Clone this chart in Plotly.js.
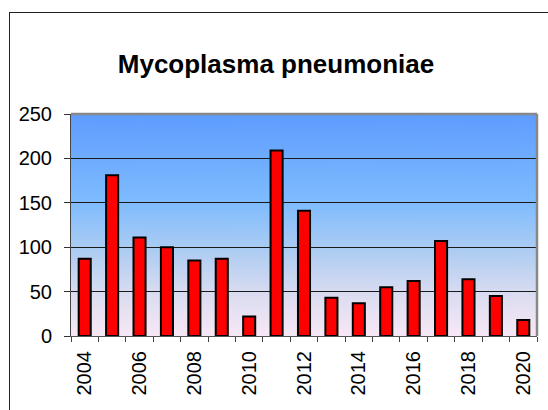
<!DOCTYPE html>
<html>
<head>
<meta charset="utf-8">
<script src="https://cdn.plot.ly/plotly-3.0.1.min.js"></script>
<style>
  html, body { margin: 0; padding: 0; background: #fff; }
  #chart { width: 548px; height: 410px; position: absolute; left: 0; top: 0; }
  #frame { position: absolute; left: 9px; top: 12px; width: 600px; height: 500px;
           border-left: 1px solid #222; border-top: 1px solid #222; pointer-events: none; }
</style>
</head>
<body>
<div id="chart"></div>
<div id="frame"></div>
<script>
const years = [2004, 2005, 2006, 2007, 2008, 2009, 2010, 2011, 2012, 2013, 2014, 2015, 2016, 2017, 2018, 2019, 2020];
const cases = [87, 181, 111, 100, 85, 87, 22, 209, 141, 43, 37, 55, 62, 107, 64, 45, 18];
const yTicks = [0, 50, 100, 150, 200, 250];
const titleText = 'Mycoplasma pneumoniae';

// background gradient image
const cv = document.createElement('canvas');
cv.width = 10; cv.height = 300;
const ctx = cv.getContext('2d');
const g = ctx.createLinearGradient(0, 0, 0, 300);
g.addColorStop(0, '#5E9CFF');
g.addColorStop(0.4, '#7FBCFE');
g.addColorStop(0.62, '#AECDF2');
g.addColorStop(0.82, '#DCDDF1');
g.addColorStop(1, '#F8E8F6');
ctx.fillStyle = g;
ctx.fillRect(0, 0, 10, 300);
const bgUrl = cv.toDataURL('image/png');

const trace = {
  type: 'bar',
  x: years,
  y: cases,
  width: 0.44,
  marker: { color: '#FF0000', line: { color: '#000000', width: 2 } },
  hoverinfo: 'x+y'
};

const layout = {
  width: 548,
  height: 410,
  margin: { l: 71, r: 11, t: 114, b: 74 },
  paper_bgcolor: '#ffffff',
  plot_bgcolor: 'rgba(0,0,0,0)',
  showlegend: false,
  font: { family: 'Arial, "Liberation Sans", sans-serif', color: '#000', size: 20 },
  title: {
    text: '<b>' + titleText + '</b>',
    font: { family: 'Arial, "Liberation Sans", sans-serif', size: 26, color: '#000' },
    xref: 'container', x: 276 / 548, xanchor: 'center',
    yref: 'container', y: 1 - 64 / 410, yanchor: 'middle'
  },
  xaxis: {
    type: 'linear',
    range: [2003.5, 2020.5],
    tick0: 2004,
    dtick: 2,
    tickmode: 'linear',
    tickangle: -90,
    ticks: 'outside',
    ticklen: 5,
    tickcolor: 'rgba(0,0,0,0)',
    tickfont: { size: 20, color: '#000' },
    ticklabelstandoff: 1,
    showgrid: false,
    zeroline: false,
    showline: true,
    linecolor: '#555',
    linewidth: 1,
    minor: { tick0: 2003.5, dtick: 1, ticks: 'outside', ticklen: 5, tickcolor: '#444', tickwidth: 1, showgrid: false },
    fixedrange: true
  },
  yaxis: {
    range: [0, 250],
    tickmode: 'array',
    tickvals: yTicks,
    ticktext: yTicks.map(String),
    ticks: 'outside',
    ticklen: 6,
    tickcolor: '#333',
    tickfont: { size: 20, color: '#000' },
    ticklabelstandoff: 8,
    showgrid: true,
    gridcolor: '#1a1a1a',
    gridwidth: 1,
    zeroline: false,
    showline: true,
    linecolor: '#444',
    linewidth: 1,
    fixedrange: true
  },
  images: [{
    source: bgUrl,
    xref: 'paper', yref: 'paper',
    x: 0, y: 1, sizex: 1, sizey: 1,
    xanchor: 'left', yanchor: 'top',
    sizing: 'stretch',
    layer: 'below'
  }],
  shapes: [
    { type: 'line', xref: 'paper', yref: 'paper', x0: 0, x1: 1, y0: 1, y1: 1, line: { color: '#888', width: 2.5 } },
    { type: 'line', xref: 'paper', yref: 'paper', x0: 1, x1: 1, y0: 0, y1: 1, line: { color: '#888', width: 2.5 } }
  ]
};

Plotly.newPlot('chart', [trace], layout, { displayModeBar: false, staticPlot: true });
</script>
</body>
</html>
